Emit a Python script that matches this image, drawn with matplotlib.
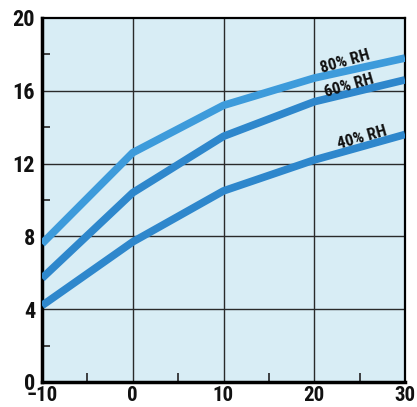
import matplotlib
matplotlib.use("Agg")
import matplotlib.pyplot as plt
from matplotlib import font_manager
from matplotlib.font_manager import FontProperties

temps = [-10, 0, 10, 20, 30]
rh80 = [7.6, 12.6, 15.2, 16.7, 17.8]
rh60 = [5.7, 10.4, 13.5, 15.4, 16.6]
rh40 = [4.2, 7.7, 10.5, 12.2, 13.6]
labels = ["80% RH", "60% RH", "40% RH"]
x_ticks = [-10, 0, 10, 20, 30]
y_ticks = [0, 4, 8, 12, 16, 20]

# look for a narrow bold face, otherwise plain bold
fname = None
for f in font_manager.fontManager.ttflist:
    p = f.fname.lower()
    if ("narrow" in p or "condensed" in p) and "bold" in p and "oblique" not in p and "italic" not in p:
        fname = f.fname
        if "liberation" in p:
            break

def fp(size):
    if fname:
        return FontProperties(fname=fname, size=size)
    return FontProperties(family="Liberation Sans", weight="bold", size=size)

fig = plt.figure(figsize=(4.17, 4.07), dpi=100)
ax = fig.add_axes([42 / 417, 25 / 407, 363 / 417, 364 / 407])
ax.set_facecolor("#d8edf5")

ax.plot(temps, rh80, color="#3d9bdb", lw=5.5, solid_capstyle="butt", zorder=3)
ax.plot(temps, rh60, color="#2e87cc", lw=5.5, solid_capstyle="butt", zorder=3)
ax.plot(temps, rh40, color="#2e87cc", lw=5.5, solid_capstyle="butt", zorder=3)

ax.set_xlim(-10, 30)
ax.set_ylim(0, 20)
ax.set_xticks(x_ticks)
ax.set_yticks(y_ticks)
ax.set_xticklabels(["\u221210", "0", "10", "20", "30"])
ax.set_xticks([-5, 5, 15, 25], minor=True)
ax.set_yticks([2, 6, 10, 14, 18], minor=True)
ax.tick_params(which="major", length=0)
ax.tick_params(axis="x", which="major", pad=3)
ax.tick_params(axis="y", which="major", pad=5)
ax.tick_params(axis="x", which="minor", direction="in", length=6.5, width=1.2, color="#222222")
ax.tick_params(axis="y", which="minor", direction="in", length=5.5, width=1.2, color="#222222")
for lab in ax.get_xticklabels():
    lab.set_fontproperties(fp(15))
    lab.set_color("#111111")
for lab in ax.get_yticklabels():
    lab.set_fontproperties(fp(16))
    lab.set_color("#111111")

for v in [0, 10, 20]:
    ax.axvline(v, color="#2a2a2a", lw=1.0, zorder=1)
for v in [4, 8, 12, 16]:
    ax.axhline(v, color="#2a2a2a", lw=1.0, zorder=1)

for s in ["left", "bottom"]:
    ax.spines[s].set_linewidth(2.5)
for s in ["top", "right"]:
    ax.spines[s].set_linewidth(1.6)

pos = [(23.4, 17.6), (23.9, 16.3), (25.3, 13.45)]
for t, (x, y) in zip(labels, pos):
    ax.text(x, y, t, rotation=16, ha="center", va="center",
            fontproperties=fp(12), color="#111111", zorder=4)

fig.savefig("out.png", dpi=100)
